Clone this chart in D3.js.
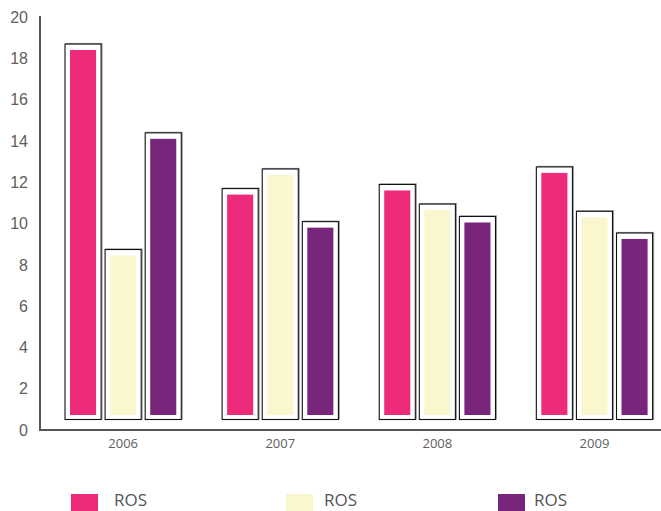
<!DOCTYPE html>
<html>
<head>
<meta charset="utf-8">
<script src="https://cdn.jsdelivr.net/npm/d3@7"></script>
<style>
  body { margin: 0; background: #fff; }
  text { font-family: "Open Sans", "Liberation Sans", sans-serif; }
</style>
</head>
<body>
<div id="chart"></div>
<script>
// --- DATA ---
const years = ["2006", "2007", "2008", "2009"];
const seriesNames = ["ROS", "ROS", "ROS"];
const seriesColors = ["#ee2a7b", "#faf7cf", "#77267b"];
const ros1 = [18.4, 11.4, 11.6, 12.45];
const ros2 = [8.45, 12.35, 10.65, 10.3];
const ros3 = [14.1, 9.8, 10.05, 9.25];
const yTicks = [0, 2, 4, 6, 8, 10, 12, 14, 16, 18, 20];

const series = [ros1, ros2, ros3];

const width = 661, height = 511;
const svg = d3.select("#chart").append("svg")
  .attr("width", width).attr("height", height);

// --- SCALES ---
const y = d3.scaleLinear().domain([0, 20]).range([430, 17]);
const x = d3.scaleBand().domain(years).range([49.3, 668.3])
  .paddingInner(0.26).paddingOuter(0.1);
const xSub = d3.scaleBand().domain([0, 1, 2]).range([0, x.bandwidth()])
  .paddingInner(0.1).paddingOuter(0);

// --- AXES ---
svg.append("line")
  .attr("x1", 40).attr("x2", 40).attr("y1", 16).attr("y2", 430)
  .attr("stroke", "#555").attr("stroke-width", 2);
svg.append("line")
  .attr("x1", 39).attr("x2", 661).attr("y1", 430).attr("y2", 430)
  .attr("stroke", "#555").attr("stroke-width", 2);

svg.selectAll(".ytick").data(yTicks).enter().append("text")
  .attr("class", "ytick")
  .attr("x", 28).attr("y", d => y(d))
  .attr("dy", "0.36em")
  .attr("text-anchor", "end")
  .style("font-family", "'Liberation Sans', Arial, sans-serif")
  .style("font-size", "16px")
  .attr("fill", "#606060")
  .text(d => d);

svg.selectAll(".xlab").data(years).enter().append("text")
  .attr("class", "xlab")
  .attr("x", d => x(d) + x.bandwidth() / 2)
  .attr("y", 448)
  .attr("text-anchor", "middle")
  .style("font-size", "13px")
  .attr("fill", "#606060")
  .text(d => d);

// --- BARS ---
const bw = xSub.bandwidth();
const boxBottom = y(0) - 10.5;
const barBottom = y(0) - 15;

years.forEach((yr, i) => {
  const g = svg.append("g").attr("transform", `translate(${x(yr)},0)`);
  series.forEach((vals, s) => {
    const v = vals[i];
    const bx = xSub(s);
    const top = y(v) - 6;
    // soft shadow
    g.append("rect")
      .attr("x", bx + 1).attr("y", top - 0.5)
      .attr("width", bw).attr("height", boxBottom - top)
      .attr("fill", "none").attr("stroke", "#a0a0a0").attr("stroke-width", 1.2);
    // outer box
    g.append("rect")
      .attr("x", bx).attr("y", top)
      .attr("width", bw).attr("height", boxBottom - top)
      .attr("fill", "#fff").attr("stroke", "#111").attr("stroke-width", 1.1);
    // colored bar
    g.append("rect")
      .attr("x", bx + 5).attr("y", y(v))
      .attr("width", bw - 10).attr("height", barBottom - y(v))
      .attr("fill", seriesColors[s]);
  });
});

// --- LEGEND ---
const legendX = [71, 286, 498];
const legendTextX = [114, 324, 534];
seriesNames.forEach((name, s) => {
  svg.append("rect")
    .attr("x", legendX[s]).attr("y", 494)
    .attr("width", 27).attr("height", 17)
    .attr("fill", seriesColors[s]);
  svg.append("text")
    .attr("x", legendTextX[s]).attr("y", 506)
    .style("font-size", "17px")
    .attr("fill", "#555")
    .text(name);
});
</script>
</body>
</html>
